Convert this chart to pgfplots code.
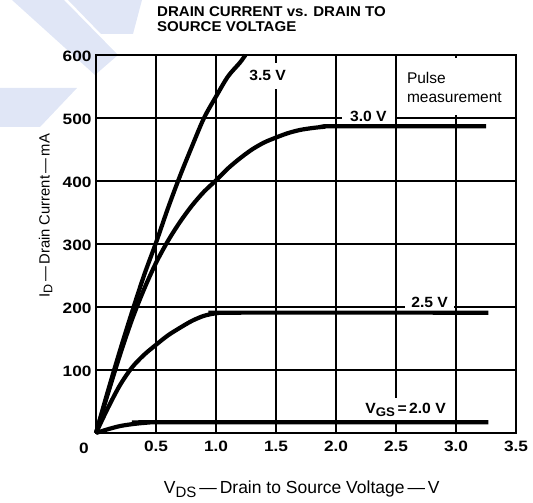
\documentclass[border=0pt]{standalone}
\usepackage{fontspec}
\setmainfont{Liberation Sans}
\newfontfamily\widefont{Liberation Sans}[FakeStretch=1.15]
\newfontfamily\midfont{Liberation Sans}[FakeStretch=1.06]
\usepackage{pgfplots}
\pgfplotsset{compat=1.18}
\definecolor{wm}{RGB}{224,230,246}

\pgfplotstableread{
V I
0 0
0.1 67
0.2 131
0.3 192
0.4 250
0.5 302
0.6 357
0.7 408
0.8 455
0.9 500
1.0 534
1.1 566
1.2 588
1.245 600
}\vgsA

\pgfplotstableread{
V I
0 0
0.1 63
0.2 124
0.3 180
0.4 228
0.5 270
0.6 305
0.7 335
0.8 361
0.9 383
1.0 401
1.1 420
1.2 436
1.3 450
1.4 461
1.5 469
1.6 476
1.7 481
1.8 484
1.9 486
2.0 487
3.25 487
}\vgsB

\pgfplotstableread{
V I
0 0
0.1 40
0.2 76
0.3 104
0.4 124
0.5 140
0.6 155
0.7 167
0.8 178
0.9 186
1.0 190
1.1 191
3.27 191
}\vgsC

\pgfplotstableread{
V I
0 0
0.1 6
0.2 11
0.3 14
0.4 16
0.5 17
3.27 17
}\vgsD

\begin{document}
\begin{tikzpicture}[x=1pt,y=1pt]
\useasboundingbox (0,0) rectangle (533,503);
% light watermark in the top left corner
\fill[wm] (12,503) -- (64,503) -- (118,448) -- (95,428) -- cycle;
\fill[wm] (68,503) -- (142,503) -- (133,469) -- (101,469) -- cycle;
\fill[wm] (0,415) -- (77,415) -- (40,376) -- (0,376) -- cycle;
\begin{axis}[
  at={(96pt,70pt)}, anchor=south west,
  scale only axis, width=420pt, height=378pt,
  xmin=0, xmax=3.5, ymin=0, ymax=600,
  xtick={0.5,1,1.5,2,2.5,3,3.5},
  xticklabels={0.5,1.0,1.5,2.0,2.5,3.0,3.5},
  ytick={100,200,300,400,500,600},
  grid=major,
  major grid style={black, line width=1.3pt},
  axis line style={black, line width=2.4pt},
  major tick length=0pt,
  /pgf/number format/assume math mode=true,
  tick label style={font=\widefont\fontsize{15}{15}\selectfont\bfseries},
  xticklabel style={yshift=-4pt, text height=11pt, text depth=0pt},
  yticklabel style={xshift=-1pt, yshift=-1.5pt},
  title={DRAIN CURRENT vs. DRAIN TO\\SOURCE VOLTAGE},
  title style={align=left, anchor=north west, inner sep=0pt,
    at={(axis description cs:0,1)}, xshift=61pt, yshift=42.5pt,
    font=\midfont\fontsize{14.2}{15}\selectfont\bfseries},
  xlabel={V\raisebox{-0.35ex}{\fontsize{15}{15}\selectfont DS}\,---\,Drain to Source Voltage\,---\,V},
  xlabel style={at={(axis description cs:0.49,0)}, anchor=base, yshift=-61pt,
    font=\fontsize{17.5}{18}\selectfont},
  ylabel={I\raisebox{-0.35ex}{\fontsize{12.5}{13}\selectfont D}\,---\,Drain Current\,---\,mA},
  ylabel style={at={(axis description cs:-0.12,0.575)}, anchor=center,
    font=\fontsize{14.8}{16}\selectfont},
  clip=false,
]
% pulse measurement box: the 3.0 V grid line stops at 500 mA
\fill[white] (axis cs:2.518,505) rectangle (axis cs:3.485,595);
\node[anchor=base west, inner sep=0pt, font=\fontsize{15.5}{15}\selectfont] at (axis cs:2.59,554) {Pulse};
\node[anchor=base west, inner sep=0pt, font=\fontsize{15.5}{15}\selectfont] at (axis cs:2.59,524) {measurement};
% curve labels on white, breaking the grid lines
\node[fill=white, inner xsep=2pt, inner ysep=8pt, font=\midfont\fontsize{14.8}{14}\selectfont\bfseries] at (axis cs:1.43,567) {3.5 V};
\node[fill=white, inner xsep=8pt, inner ysep=1.5pt, font=\midfont\fontsize{14.8}{14}\selectfont\bfseries] at (axis cs:2.27,503) {3.0 V};
\node[fill=white, inner xsep=6pt, inner ysep=1.5pt, font=\midfont\fontsize{14.8}{14}\selectfont\bfseries] at (axis cs:2.78,208) {2.5 V};
\node[fill=white, inner xsep=2pt, inner ysep=5pt, font=\midfont\fontsize{14.8}{14}\selectfont\bfseries] at (axis cs:2.58,37) {V\raisebox{-0.4ex}{\fontsize{12.5}{12}\selectfont GS}\,=\,2.0 V};
% zero at the corner
\node[anchor=north, inner sep=0pt, text height=11pt, text depth=0pt, font=\widefont\fontsize{15}{15}\selectfont\bfseries] at (axis cs:0,0) [xshift=-12pt, yshift=-9pt] {0};
% curves
\addplot[black, line width=4.2pt, smooth, tension=0.5] table[x=V, y=I] {\vgsA};
\addplot[black, line width=4.2pt, smooth, tension=0.5] table[x=V, y=I] {\vgsB};
\addplot[black, line width=4.2pt, smooth, tension=0.5] table[x=V, y=I] {\vgsC};
\addplot[black, line width=4.2pt, smooth, tension=0.5] table[x=V, y=I] {\vgsD};
\end{axis}
\end{tikzpicture}
\end{document}
